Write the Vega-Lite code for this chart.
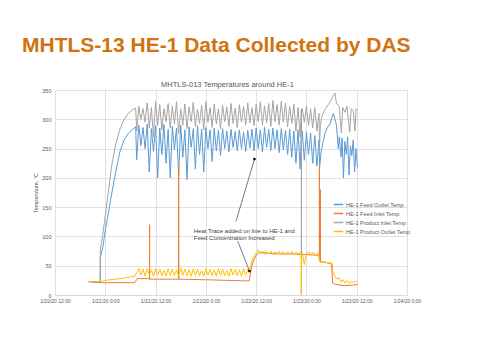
{
  "$schema": "https://vega.github.io/schema/vega-lite/v6.json",
  "width": 352,
  "height": 205,
  "autosize": {"type": "none"},
  "padding": {"left": 55, "top": 90, "right": 73, "bottom": 57},
  "background": "white",
  "title": {"text": "MHTLS-13 HE-1 Data Collected by DAS", "anchor": "start", "frame": "group", "dx": -33, "offset": 24, "fontSize": 21, "font": "Liberation Sans", "fontWeight": "bold", "color": "#D27310"},
  "config": {"view": {"stroke": null}, "font": "Liberation Sans"},
  "resolve": {"axis": {"x": "independent", "y": "independent"}},
  "layer": [
    {
      "data": {"values": [
        {"t":"2020-01-20T20:00","s1":23,"s2":23,"s3":23,"s4":23},
        {"t":"2020-01-20T21:30","s1":22,"s2":22,"s3":22,"s4":23},
        {"t":"2020-01-20T22:47","s1":22,"s3":22},
        {"t":"2020-01-20T22:49","s1":64,"s3":78},
        {"t":"2020-01-20T23:00","s2":21,"s4":23},
        {"t":"2020-01-20T23:30","s1":85,"s3":108},
        {"t":"2020-01-21T00:00","s1":111,"s3":136,"s4":25},
        {"t":"2020-01-21T00:30","s1":130,"s3":163},
        {"t":"2020-01-21T01:30","s1":172,"s3":220},
        {"t":"2020-01-21T02:30","s1":210,"s3":258},
        {"t":"2020-01-21T03:30","s1":245,"s3":283,"s4":28},
        {"t":"2020-01-21T04:30","s1":265,"s3":300},
        {"t":"2020-01-21T05:30","s1":276,"s3":310},
        {"t":"2020-01-21T06:30","s1":283,"s3":316},
        {"t":"2020-01-21T07:00","s2":21,"s4":32},
        {"t":"2020-01-21T07:15","s1":287,"s3":319},
        {"t":"2020-01-21T07:30","s1":231,"s3":280},
        {"t":"2020-01-21T07:40","s2":28,"s4":40},
        {"t":"2020-01-21T08:00","s1":290,"s3":322,"s4":46},
        {"t":"2020-01-21T08:30","s1":255,"s3":300,"s4":34},
        {"t":"2020-01-21T09:00","s1":286,"s3":318,"s4":44},
        {"t":"2020-01-21T09:30","s1":250,"s3":295,"s4":33},
        {"t":"2020-01-21T10:00","s1":292,"s3":328,"s4":45},
        {"t":"2020-01-21T10:30","s1":210,"s3":285,"s4":34},
        {"t":"2020-01-21T10:33","s2":28},
        {"t":"2020-01-21T10:34","s2":120},
        {"t":"2020-01-21T10:35","s2":27},
        {"t":"2020-01-21T11:00","s1":284,"s3":320,"s4":43},
        {"t":"2020-01-21T11:30","s1":245,"s3":270,"s4":32},
        {"t":"2020-01-21T12:00","s1":289,"s3":330,"s4":45},
        {"t":"2020-01-21T12:30","s1":200,"s3":290,"s4":34},
        {"t":"2020-01-21T13:00","s1":285,"s3":325,"s4":44},
        {"t":"2020-01-21T13:30","s1":240,"s3":282,"s4":33},
        {"t":"2020-01-21T14:00","s1":291,"s3":318,"s4":42},
        {"t":"2020-01-21T14:30","s1":225,"s3":296,"s4":32},
        {"t":"2020-01-21T15:00","s1":283,"s3":327,"s4":45},
        {"t":"2020-01-21T15:30","s1":200,"s3":285,"s4":34},
        {"t":"2020-01-21T16:00","s1":288,"s3":322,"s4":44},
        {"t":"2020-01-21T16:30","s1":248,"s3":292,"s4":33},
        {"t":"2020-01-21T17:00","s1":285,"s3":330,"s4":43},
        {"t":"2020-01-21T17:29","s2":27},
        {"t":"2020-01-21T17:30","s1":205,"s3":275,"s4":32},
        {"t":"2020-01-21T17:31","s2":220},
        {"t":"2020-01-21T17:33","s2":27},
        {"t":"2020-01-21T18:00","s1":290,"s3":318,"s4":46},
        {"t":"2020-01-21T18:30","s1":235,"s3":290,"s4":34},
        {"t":"2020-01-21T19:00","s1":282,"s3":326,"s4":44},
        {"t":"2020-01-21T19:30","s1":197,"s3":284,"s4":33},
        {"t":"2020-01-21T20:00","s1":287,"s3":321,"s4":43},
        {"t":"2020-01-21T20:30","s1":252,"s3":296,"s4":32},
        {"t":"2020-01-21T21:00","s1":284,"s3":329,"s4":45},
        {"t":"2020-01-21T21:30","s1":215,"s3":288,"s4":34},
        {"t":"2020-01-21T22:00","s1":289,"s3":317,"s4":44},
        {"t":"2020-01-21T22:30","s1":240,"s3":293,"s4":33},
        {"t":"2020-01-21T23:00","s1":283,"s3":324,"s4":42},
        {"t":"2020-01-21T23:30","s1":210,"s3":282,"s4":32},
        {"t":"2020-01-22T00:00","s1":286,"s2":26,"s3":330,"s4":45},
        {"t":"2020-01-22T00:30","s1":250,"s3":295,"s4":34},
        {"t":"2020-01-22T01:00","s1":282,"s3":320,"s4":44},
        {"t":"2020-01-22T01:30","s1":228,"s3":286,"s4":33},
        {"t":"2020-01-22T02:00","s1":285,"s3":326,"s4":43},
        {"t":"2020-01-22T02:30","s1":246,"s3":292,"s4":32},
        {"t":"2020-01-22T03:00","s1":281,"s3":318,"s4":45},
        {"t":"2020-01-22T03:30","s1":238,"s3":284,"s4":34},
        {"t":"2020-01-22T04:00","s1":284,"s3":324,"s4":44},
        {"t":"2020-01-22T04:30","s1":250,"s3":296,"s4":33},
        {"t":"2020-01-22T05:00","s1":280,"s3":321,"s4":42},
        {"t":"2020-01-22T05:30","s1":244,"s3":288,"s4":32},
        {"t":"2020-01-22T06:00","s1":283,"s3":327,"s4":45},
        {"t":"2020-01-22T06:30","s1":252,"s3":293,"s4":34},
        {"t":"2020-01-22T07:00","s1":279,"s3":319,"s4":44},
        {"t":"2020-01-22T07:30","s1":246,"s3":286,"s4":33},
        {"t":"2020-01-22T08:00","s1":282,"s3":325,"s4":43},
        {"t":"2020-01-22T08:30","s1":250,"s3":295,"s4":32},
        {"t":"2020-01-22T09:00","s1":278,"s3":322,"s4":45},
        {"t":"2020-01-22T09:30","s1":245,"s3":290,"s4":34},
        {"t":"2020-01-22T10:00","s1":281,"s3":328,"s4":44},
        {"t":"2020-01-22T10:20","s2":24,"s4":38},
        {"t":"2020-01-22T10:30","s1":251,"s3":294},
        {"t":"2020-01-22T10:40","s2":38,"s4":48},
        {"t":"2020-01-22T11:00","s1":283,"s2":50,"s3":320,"s4":58},
        {"t":"2020-01-22T11:30","s1":246,"s2":60,"s3":289,"s4":66},
        {"t":"2020-01-22T12:00","s1":285,"s2":67,"s3":326,"s4":72},
        {"t":"2020-01-22T12:30","s1":250,"s2":72,"s3":296,"s4":77},
        {"t":"2020-01-22T13:00","s1":282,"s2":73,"s3":330,"s4":70},
        {"t":"2020-01-22T13:30","s1":244,"s3":290,"s4":75},
        {"t":"2020-01-22T14:00","s1":286,"s3":323,"s4":69},
        {"t":"2020-01-22T14:30","s1":252,"s3":294,"s4":74},
        {"t":"2020-01-22T15:00","s1":283,"s2":71,"s3":327,"s4":70},
        {"t":"2020-01-22T15:30","s1":247,"s3":288,"s4":75},
        {"t":"2020-01-22T16:00","s1":285,"s3":332,"s4":69},
        {"t":"2020-01-22T16:30","s1":250,"s3":296,"s4":74},
        {"t":"2020-01-22T17:00","s1":282,"s3":325,"s4":70},
        {"t":"2020-01-22T17:30","s1":243,"s3":290,"s4":75},
        {"t":"2020-01-22T18:00","s1":284,"s2":70,"s3":331,"s4":70},
        {"t":"2020-01-22T18:30","s1":248,"s3":295,"s4":74},
        {"t":"2020-01-22T19:00","s1":281,"s3":328,"s4":69},
        {"t":"2020-01-22T19:30","s1":240,"s3":287,"s4":74},
        {"t":"2020-01-22T20:00","s1":283,"s3":322,"s4":70},
        {"t":"2020-01-22T20:30","s1":235,"s3":293,"s4":74},
        {"t":"2020-01-22T21:00","s1":280,"s2":70,"s3":326,"s4":69},
        {"t":"2020-01-22T21:30","s1":225,"s3":280,"s4":73},
        {"t":"2020-01-22T22:00","s1":282,"s3":320,"s4":70},
        {"t":"2020-01-22T22:30","s1":215,"s3":270,"s4":73},
        {"t":"2020-01-22T22:47","s1":280,"s3":318,"s4":70},
        {"t":"2020-01-22T22:48","s3":0,"s4":0},
        {"t":"2020-01-22T22:50","s3":312,"s4":68},
        {"t":"2020-01-22T23:00","s1":280,"s3":318,"s4":72},
        {"t":"2020-01-22T23:30","s1":230,"s3":295,"s4":52},
        {"t":"2020-01-23T00:00","s1":278,"s2":69,"s3":322,"s4":70},
        {"t":"2020-01-23T00:30","s1":240,"s3":290,"s4":74},
        {"t":"2020-01-23T01:00","s1":276,"s3":318,"s4":68},
        {"t":"2020-01-23T01:30","s1":225,"s3":285,"s4":73},
        {"t":"2020-01-23T02:00","s1":272,"s3":320,"s4":68},
        {"t":"2020-01-23T02:30","s1":220,"s2":68,"s3":280,"s4":72},
        {"t":"2020-01-23T03:00","s1":265,"s3":310,"s4":67},
        {"t":"2020-01-23T03:05","s2":66},
        {"t":"2020-01-23T03:06","s2":219},
        {"t":"2020-01-23T03:07","s2":60,"s3":253,"s4":57},
        {"t":"2020-01-23T03:10","s1":219},
        {"t":"2020-01-23T03:19","s2":58},
        {"t":"2020-01-23T03:20","s2":180,"s3":290},
        {"t":"2020-01-23T03:21","s2":57},
        {"t":"2020-01-23T03:30","s1":245,"s4":56},
        {"t":"2020-01-23T03:40","s3":305},
        {"t":"2020-01-23T04:00","s1":262},
        {"t":"2020-01-23T04:30","s1":278,"s2":56,"s3":318,"s4":55},
        {"t":"2020-01-23T05:00","s1":286},
        {"t":"2020-01-23T05:30","s3":328,"s4":55},
        {"t":"2020-01-23T05:40","s1":293},
        {"t":"2020-01-23T06:00","s2":53},
        {"t":"2020-01-23T06:10","s4":54},
        {"t":"2020-01-23T06:15","s2":21,"s3":338},
        {"t":"2020-01-23T06:20","s4":40},
        {"t":"2020-01-23T06:24","s1":310},
        {"t":"2020-01-23T06:45","s4":32},
        {"t":"2020-01-23T06:48","s3":345},
        {"t":"2020-01-23T06:50","s1":300},
        {"t":"2020-01-23T07:00","s2":18},
        {"t":"2020-01-23T07:10","s1":290,"s3":328},
        {"t":"2020-01-23T07:15","s4":27},
        {"t":"2020-01-23T07:30","s3":324},
        {"t":"2020-01-23T07:36","s1":250},
        {"t":"2020-01-23T07:45","s4":30},
        {"t":"2020-01-23T07:50","s1":270,"s3":322},
        {"t":"2020-01-23T08:15","s1":236,"s4":22},
        {"t":"2020-01-23T08:20","s3":277},
        {"t":"2020-01-23T08:30","s1":268},
        {"t":"2020-01-23T08:40","s3":320},
        {"t":"2020-01-23T08:45","s4":26},
        {"t":"2020-01-23T08:50","s1":200},
        {"t":"2020-01-23T09:00","s2":16},
        {"t":"2020-01-23T09:10","s1":262,"s3":312},
        {"t":"2020-01-23T09:15","s4":20},
        {"t":"2020-01-23T09:30","s1":240},
        {"t":"2020-01-23T09:40","s3":322},
        {"t":"2020-01-23T09:45","s4":25},
        {"t":"2020-01-23T09:50","s1":270},
        {"t":"2020-01-23T10:10","s1":205},
        {"t":"2020-01-23T10:15","s4":20},
        {"t":"2020-01-23T10:20","s3":278},
        {"t":"2020-01-23T10:30","s1":255},
        {"t":"2020-01-23T10:40","s3":318},
        {"t":"2020-01-23T10:45","s4":24},
        {"t":"2020-01-23T10:50","s1":238},
        {"t":"2020-01-23T11:00","s2":17},
        {"t":"2020-01-23T11:10","s1":265,"s3":315},
        {"t":"2020-01-23T11:15","s4":21},
        {"t":"2020-01-23T11:30","s1":210},
        {"t":"2020-01-23T11:35","s3":280},
        {"t":"2020-01-23T11:45","s4":24},
        {"t":"2020-01-23T11:50","s1":250,"s3":318},
        {"t":"2020-01-23T12:10","s1":218,"s2":18,"s3":316,"s4":22}
      ]},
      "transform": [
        {"fold": ["s1", "s2", "s3", "s4"], "as": ["series", "value"]},
        {"filter": "isValid(datum.value)"}
      ],
      "mark": {"type": "line", "strokeWidth": 1},
      "encoding": {
        "x": {
          "field": "t", "type": "temporal",
          "scale": {"domain": [{"year": 2020, "month": 1, "date": 20, "hours": 12}, {"year": 2020, "month": 1, "date": 24, "hours": 0}]},
          "axis": {
            "title": null,
            "values": [
              {"year": 2020, "month": 1, "date": 20, "hours": 12},
              {"year": 2020, "month": 1, "date": 21, "hours": 0},
              {"year": 2020, "month": 1, "date": 21, "hours": 12},
              {"year": 2020, "month": 1, "date": 22, "hours": 0},
              {"year": 2020, "month": 1, "date": 22, "hours": 12},
              {"year": 2020, "month": 1, "date": 23, "hours": 0},
              {"year": 2020, "month": 1, "date": 23, "hours": 12},
              {"year": 2020, "month": 1, "date": 24, "hours": 0}
            ],
            "format": "%-m/%-d/%y %-H:%M",
            "labelFontSize": 5,
            "labelColor": "#595959",
            "labelPadding": 3,
            "labelFlush": false,
            "labelOverlap": false,
            "ticks": false,
            "domainColor": "#D9D9D9",
            "gridColor": "#D9D9D9",
            "gridWidth": 0.8
          }
        },
        "y": {
          "field": "value", "type": "quantitative",
          "scale": {"domain": [0, 350]},
          "axis": {
            "values": [0, 50, 100, 150, 200, 250, 300, 350],
            "title": "Temperature, °C",
            "titleFontSize": 5.5,
            "titleFontWeight": "normal",
            "titleColor": "#595959",
            "titlePadding": 3,
            "labelFontSize": 5.5,
            "labelColor": "#595959",
            "labelPadding": 4,
            "ticks": false,
            "domain": false,
            "gridColor": "#D9D9D9",
            "gridWidth": 0.8
          }
        },
        "color": {
          "field": "series", "type": "nominal",
          "scale": {"domain": ["s1", "s2", "s3", "s4"], "range": ["#5B9BD5", "#ED7D31", "#A5A5A5", "#FFC000"]},
          "legend": {
            "orient": "none",
            "legendX": 278,
            "legendY": 109,
            "title": null,
            "symbolType": "stroke",
            "symbolSize": 90,
            "symbolStrokeWidth": 1.5,
            "labelFontSize": 5.5,
            "labelColor": "#595959",
            "labelOffset": 2,
            "rowPadding": 0,
            "padding": 0,
            "labelExpr": "datum.label == 's1' ? 'HE-1 Feed Outlet Temp' : datum.label == 's2' ? 'HE-1 Feed Inlet Temp' : datum.label == 's3' ? 'HE-1 Product Inlet Temp' : 'HE-1 Product Outlet Temp'"
          }
        }
      }
    },
    {
      "data": {"values": [
        {"x1": "2020-01-22T07:12", "y1": 126, "x2": "2020-01-22T11:36", "y2": 232},
        {"x1": "2020-01-22T07:36", "y1": 92, "x2": "2020-01-22T10:24", "y2": 41}
      ]},
      "mark": {"type": "rule", "color": "#404040", "strokeWidth": 0.7},
      "encoding": {
        "x": {"field": "x1", "type": "temporal", "axis": null},
        "x2": {"field": "x2"},
        "y": {"field": "y1", "type": "quantitative", "axis": null},
        "y2": {"field": "y2"}
      }
    },
    {
      "data": {"values": [
        {"x": "2020-01-22T11:36", "y": 232},
        {"x": "2020-01-22T10:24", "y": 41}
      ]},
      "mark": {"type": "point", "filled": true, "color": "#000000", "size": 7, "opacity": 1},
      "encoding": {
        "x": {"field": "x", "type": "temporal", "axis": null},
        "y": {"field": "y", "type": "quantitative", "axis": null}
      }
    },
    {
      "data": {"values": [
        {"x": "2020-01-21T21:07", "y": 114, "label": "Heat Trace added on line to HE-1 and\nFeed Concentration Increased"}
      ]},
      "mark": {"type": "text", "align": "left", "baseline": "top", "fontSize": 6, "lineBreak": "\n", "lineHeight": 7, "color": "#404040"},
      "encoding": {
        "x": {
          "field": "x", "type": "temporal",
          "axis": {
            "orient": "top",
            "labels": false,
            "ticks": false,
            "domain": false,
            "grid": false,
            "title": "MHTLS-013  Temperatures around HE-1",
            "titleFontSize": 7.5,
            "titleFontWeight": "normal",
            "titleColor": "#595959",
            "titlePadding": 2,
            "titleX": 172
          }
        },
        "y": {"field": "y", "type": "quantitative", "axis": null},
        "text": {"field": "label"}
      }
    }
  ]
}
